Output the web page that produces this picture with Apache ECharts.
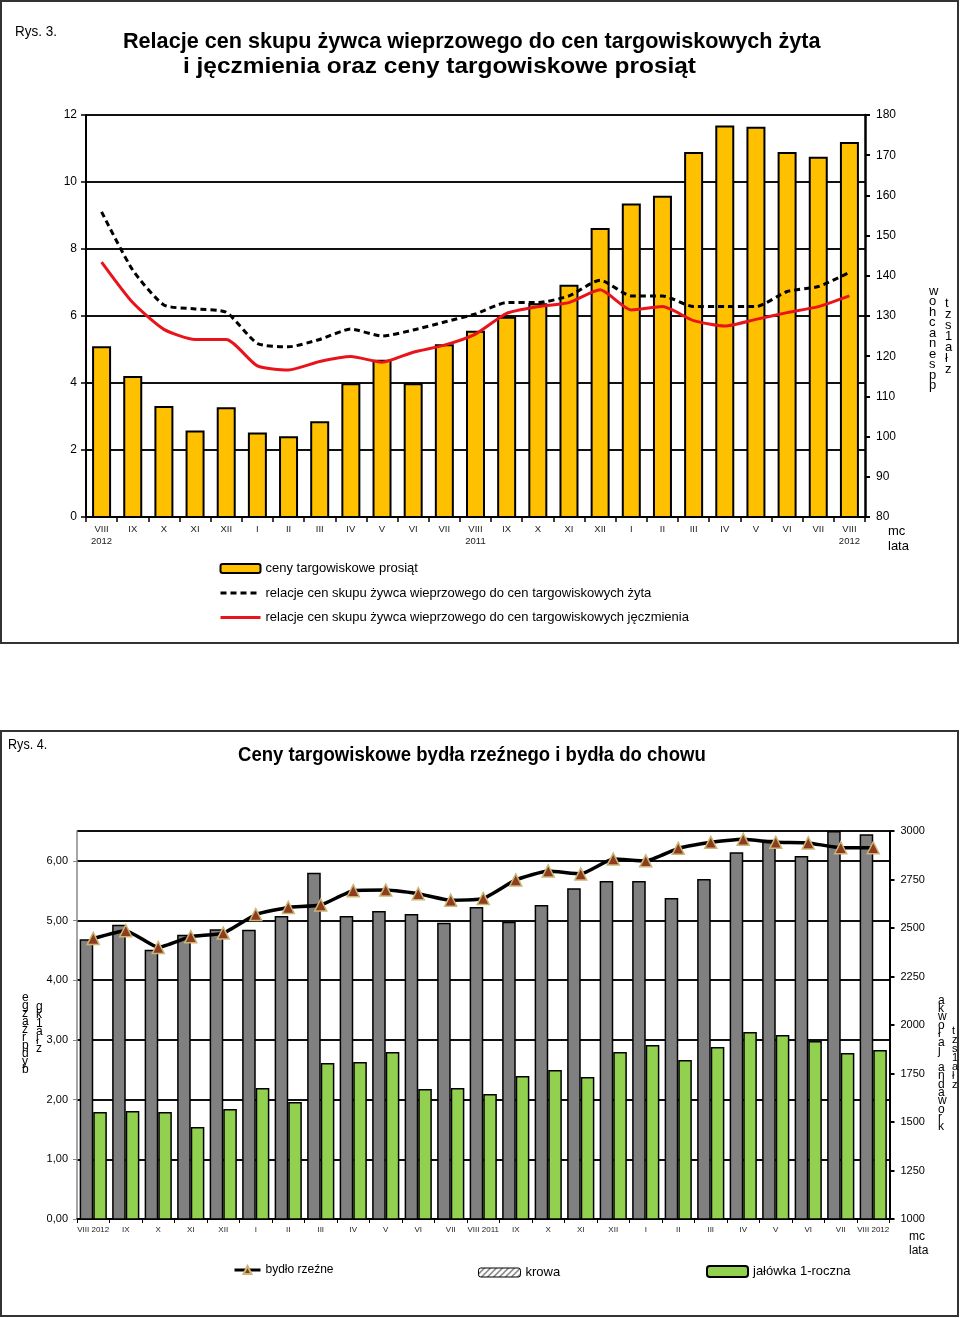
<!DOCTYPE html>
<html><head><meta charset="utf-8">
<script src="https://cdn.jsdelivr.net/npm/echarts@6/dist/echarts.min.js"></script>
<style>html,body{margin:0;padding:0;background:#fff}#c{width:960px;height:1318px}</style>
</head><body><div id="c"></div>
<script>
// ---- Chart 1 data ----
const cat1 = ['VIII\n2012','IX','X','XI','XII','I','II','III','IV','V','VI','VII','VIII\n2011','IX','X','XI','XII','I','II','III','IV','V','VI','VII','VIII\n2012'];
const prosieta = [122.5,115.1,107.6,101.5,107.3,101.0,100.1,103.8,113.3,119.1,113.3,123.0,126.3,129.8,133.2,137.8,151.9,158.0,159.9,170.8,177.4,177.1,170.8,169.6,173.3];
const relZyto = [9.11,7.37,6.33,6.21,6.11,5.18,5.08,5.30,5.61,5.40,5.58,5.82,6.06,6.40,6.40,6.60,7.07,6.60,6.60,6.28,6.28,6.28,6.73,6.88,7.30];
const relJeczmien = [7.61,6.40,5.60,5.30,5.30,4.51,4.39,4.64,4.79,4.62,4.92,5.13,5.46,6.08,6.28,6.40,6.78,6.18,6.28,5.86,5.70,5.90,6.10,6.28,6.60];
// ---- Chart 2 data ----
const cat2 = ['VIII 2012','IX','X','XI','XII','I','II','III','IV','V','VI','VII','VIII 2011','IX','X','XI','XII','I','II','III','IV','V','VI','VII','VIII 2012'];
const bydloRzezne = [4.70,4.83,4.55,4.73,4.79,5.10,5.22,5.26,5.50,5.51,5.45,5.34,5.37,5.68,5.83,5.78,6.03,6.00,6.21,6.31,6.36,6.31,6.30,6.22,6.22];
const krowa = [2442,2517,2388,2465,2493,2491,2562,2785,2562,2588,2572,2527,2608,2532,2619,2705,2742,2742,2655,2753,2890,2955,2871,3000,2983];
const jalowka = [1552,1557,1552,1474,1567,1675,1603,1804,1809,1861,1670,1675,1644,1737,1768,1732,1861,1897,1820,1887,1964,1948,1918,1856,1871];

const FF = '"Liberation Sans", Arial, sans-serif';

// hatch pattern for krowa legend icon
const hc = document.createElement('canvas'); hc.width = 6; hc.height = 6;
const hx = hc.getContext('2d'); hx.fillStyle = '#fff'; hx.fillRect(0,0,6,6);
hx.strokeStyle = '#555'; hx.lineWidth = 1.2; hx.beginPath();
hx.moveTo(0,6); hx.lineTo(6,0); hx.moveTo(-3,3); hx.lineTo(3,-3); hx.moveTo(3,9); hx.lineTo(9,3); hx.stroke();

const chart = echarts.init(document.getElementById('c'), null, {renderer:'canvas'});
const lbl = {color:'#000', fontFamily: FF};

function vtext(x, y, s, lh, size) {
  return {type:'text', x:x, y:y, style:{text: s.split('').join('\n'), font: size+'px '+FF, fill:'#000', lineHeight: lh}};
}
function plain(v){ return String(v); }

chart.setOption({
  animation: false,
  backgroundColor: '#fff',
  graphic: [
    {type:'rect', shape:{x:1, y:1, width:957, height:642}, style:{fill:'none', stroke:'#333', lineWidth:2}},
    {type:'rect', shape:{x:1, y:731, width:957, height:585}, style:{fill:'none', stroke:'#333', lineWidth:2}},
    {type:'text', x:15, y:24, scaleX:0.9, style:{text:'Rys. 3.', font:'15px '+FF, fill:'#000'}},
    {type:'text', x:123, y:31, scaleX:0.982, style:{text:'Relacje cen skupu żywca wieprzowego do cen targowiskowych żyta', font:'bold 22px '+FF, fill:'#000'}},
    {type:'text', x:183, y:56, scaleX:1.11, style:{text:'i jęczmienia oraz ceny targowiskowe prosiąt', font:'bold 22px '+FF, fill:'#000'}},
    {type:'text', x:888, y:524, style:{text:'mc\nlata', font:'13px '+FF, fill:'#000', lineHeight:15}},
    vtext(929, 286, 'wohcanespp', 10.5, 13),
    vtext(945, 298, 'tzs1ałz', 11, 13),
    {type:'text', x:8, y:738, scaleX:0.9, style:{text:'Rys. 4.', font:'14px '+FF, fill:'#000'}},
    {type:'text', x:238, y:745, scaleX:0.927, style:{text:'Ceny targowiskowe bydła rzeźnego i bydła do chowu', font:'bold 20px '+FF, fill:'#000'}},
    {type:'text', x:909, y:1230, style:{text:'mc\nlata', font:'12px '+FF, fill:'#000', lineHeight:14}},
    vtext(22, 994, 'egzaźrpdyb', 8, 12),
    vtext(36, 1002, 'gk1ałz', 8.5, 12),
    vtext(938, 996, 'akwołaj andawork', 8.4, 12),
    vtext(952, 1026, 'tzs1ałz', 9, 11)
  ],
  grid: [
    {left:86, right:95, top:115, height:402},
    {left:77, right:70.5, top:831, height:388}
  ],
  xAxis: [
    {type:'category', gridIndex:0, data:cat1, boundaryGap:true,
     axisLine:{lineStyle:{color:'#000', width:2}},
     axisTick:{show:true, length:5, lineStyle:{color:'#000', width:1.5}, interval:0},
     axisLabel:{interval:0, fontSize:9.5, lineHeight:12, color:'#222', margin:6, fontFamily:FF}},
    {type:'category', gridIndex:1, data:cat2, boundaryGap:true,
     axisLine:{lineStyle:{color:'#000', width:1.5}},
     axisTick:{show:true, length:4, lineStyle:{color:'#000', width:1}, interval:0},
     axisLabel:{interval:0, fontSize:8, color:'#222', margin:7, fontFamily:FF}}
  ],
  yAxis: [
    {type:'value', gridIndex:0, position:'left', min:0, max:12, interval:2,
     axisLine:{show:true, lineStyle:{color:'#000', width:2}},
     axisTick:{show:true, length:5, lineStyle:{color:'#000', width:1.5}},
     axisLabel:Object.assign({fontSize:12, margin:9, formatter:plain}, lbl),
     splitLine:{show:true, lineStyle:{color:'#111', width:2}}},
    {type:'value', gridIndex:0, position:'right', min:80, max:180, interval:10,
     axisLine:{show:true, lineStyle:{color:'#000', width:2.5}},
     axisTick:{show:true, length:5, lineStyle:{color:'#000', width:2}},
     axisLabel:Object.assign({fontSize:12, margin:11, formatter:plain}, lbl),
     splitLine:{show:false}},
    {type:'value', gridIndex:1, position:'left', min:0, max:6.5, interval:1,
     axisLine:{show:true, lineStyle:{color:'#888', width:1.5}},
     axisTick:{show:true, length:4, lineStyle:{color:'#888', width:1}},
     axisLabel:Object.assign({fontSize:11, margin:9, showMaxLabel:false,
       formatter:function(v){return v.toFixed(2).replace('.', ',');}}, lbl),
     splitLine:{show:true, lineStyle:{color:'#111', width:2}}},
    {type:'value', gridIndex:1, position:'right', min:1000, max:3000, interval:250,
     axisLine:{show:true, lineStyle:{color:'#000', width:2}},
     axisTick:{show:true, length:5, lineStyle:{color:'#000', width:2}},
     axisLabel:Object.assign({fontSize:11, margin:11, formatter:plain}, lbl),
     splitLine:{show:false}}
  ],
  legend: [
    {left:219, top:562, orient:'vertical', itemWidth:40, itemHeight:9, itemGap:11.5, padding:0,
     lineStyle:{width:3},
     textStyle:{fontSize:13, color:'#000', fontFamily:FF},
     data:['ceny targowiskowe prosiąt',
           {name:'relacje cen skupu żywca wieprzowego do cen targowiskowych żyta', itemStyle:{opacity:0}},
           {name:'relacje cen skupu żywca wieprzowego do cen targowiskowych jęczmienia', itemStyle:{opacity:0}}]},
    {left:233, top:1264, itemWidth:26, itemHeight:10, padding:0, lineStyle:{width:3},
     textStyle:{fontSize:12, color:'#000', fontFamily:FF}, data:['bydło rzeźne']},
    {left:478, top:1266, itemWidth:42, itemHeight:9, padding:0,
     textStyle:{fontSize:13, color:'#000', fontFamily:FF, padding:[7,0,0,0]},
     data:[{name:'krowa', itemStyle:{color:{image:hc, repeat:'repeat'}, borderColor:'#000', borderWidth:1}}]},
    {left:706, top:1265, itemWidth:41, itemHeight:11, padding:0,
     textStyle:{fontSize:13, color:'#000', fontFamily:FF, padding:[5,0,0,0]}, data:['jałówka 1-roczna']}
  ],
  series: [
    {name:'ceny targowiskowe prosiąt', type:'bar', xAxisIndex:0, yAxisIndex:1, data:prosieta, barWidth:19,
     itemStyle:{color:'#FFC000', borderColor:'#000', borderWidth:2}},
    {name:'relacje cen skupu żywca wieprzowego do cen targowiskowych żyta', type:'line', xAxisIndex:0, yAxisIndex:0,
     data:relZyto, symbol:'none', smooth:0.2, z:4, lineStyle:{color:'#000', width:3, type:[6,4]}, itemStyle:{color:'#000'}},
    {name:'relacje cen skupu żywca wieprzowego do cen targowiskowych jęczmienia', type:'line', xAxisIndex:0, yAxisIndex:0,
     data:relJeczmien, symbol:'none', smooth:0.2, z:4, lineStyle:{color:'#E8141B', width:3}, itemStyle:{color:'#E8141B'}},
    {name:'krowa', type:'bar', xAxisIndex:1, yAxisIndex:3, data:krowa, barWidth:13.6, barGap:'0%',
     itemStyle:{color:'#808080', borderColor:'#000', borderWidth:1.5}},
    {name:'jałówka 1-roczna', type:'bar', xAxisIndex:1, yAxisIndex:3, data:jalowka, barWidth:13.6, barGap:'0%',
     itemStyle:{color:'#92D050', borderColor:'#000', borderWidth:1.5}},
    {name:'bydło rzeźne', type:'line', xAxisIndex:1, yAxisIndex:2, data:bydloRzezne, smooth:0.15, z:5,
     symbol:'triangle', symbolSize:12, showSymbol:true,
     lineStyle:{color:'#000', width:3.5},
     itemStyle:{color:'#8E3B1E', borderColor:'#C9B676', borderWidth:1.5}}
  ]
});
</script></body></html>
